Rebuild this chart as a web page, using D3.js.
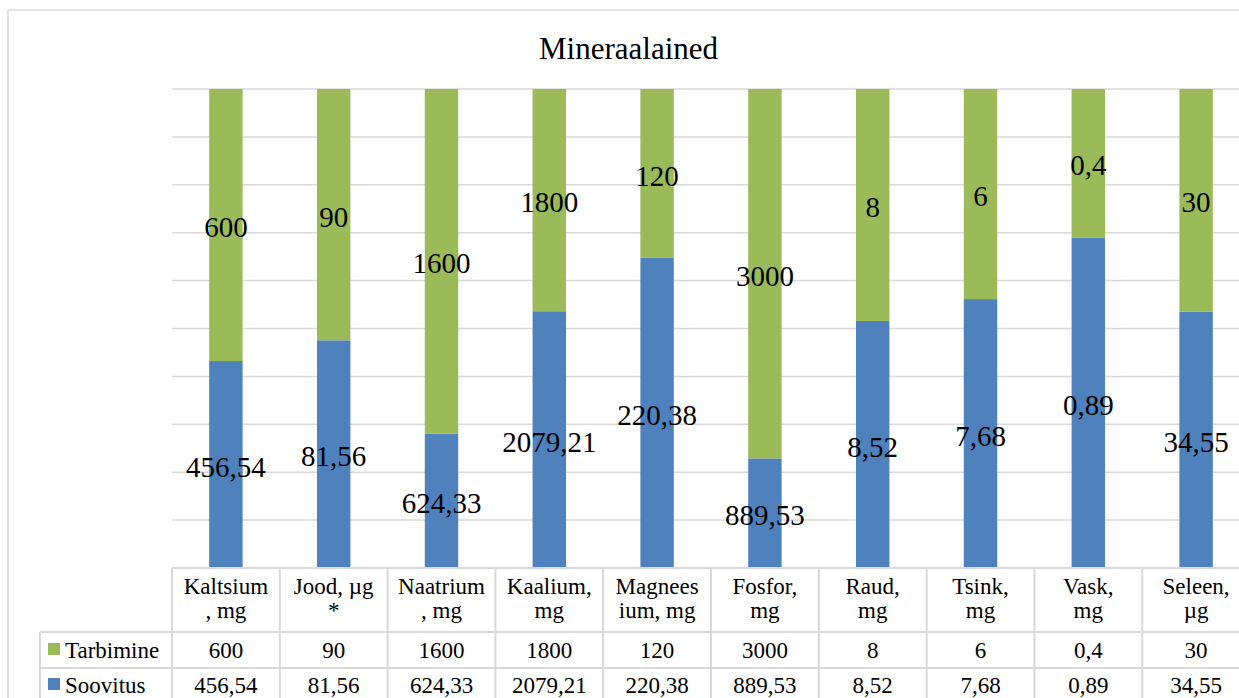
<!DOCTYPE html>
<html>
<head>
<meta charset="utf-8">
<script src="https://cdn.jsdelivr.net/npm/d3@7"></script>
<style>
  html, body { margin: 0; padding: 0; background: #fff; overflow: hidden; }
</style>
</head>
<body>
<svg id="chart" width="1239" height="698"></svg>
<script>
// Minerals: consumption vs recommendation (100% stacked columns + data table)
const categories = ["Kaltsium, mg", "Jood, µg *", "Naatrium, mg", "Kaalium, mg", "Magneesium, mg",
                    "Fosfor, mg", "Raud, mg", "Tsink, mg", "Vask, mg", "Seleen, µg"];
const headerLines = [["Kaltsium", ", mg"], ["Jood, µg", "*"], ["Naatrium", ", mg"], ["Kaalium,", "mg"],
                     ["Magnees", "ium, mg"], ["Fosfor,", "mg"], ["Raud,", "mg"], ["Tsink,", "mg"],
                     ["Vask,", "mg"], ["Seleen,", "µg"]];
const tarbimine = [600, 90, 1600, 1800, 120, 3000, 8, 6, 0.4, 30];
const soovitus = [456.54, 81.56, 624.33, 2079.21, 220.38, 889.53, 8.52, 7.68, 0.89, 34.55];
const seriesNames = ["Soovitus", "Tarbimine"];
const gridTicks = [0, 0.1, 0.2, 0.3, 0.4, 0.5, 0.6, 0.7, 0.8, 0.9, 1];

const colors = { Soovitus: "#4f81bd", Tarbimine: "#9bbb59" };
const gridColor = "#d9d9d9";

// pick the first installed serif face (measured against monospace fallback)
function pickFont(candidates) {
  const ctx = document.createElement("canvas").getContext("2d");
  const sample = "Mineraalained 0123456789 Wwm";
  ctx.font = "40px monospace";
  const mono = ctx.measureText(sample).width;
  for (const f of candidates) {
    ctx.font = `40px "${f}", monospace`;
    if (Math.abs(ctx.measureText(sample).width - mono) > 0.5) return `"${f}"`;
  }
  return "serif";
}
const fontFamily = pickFont(["Liberation Serif", "Tinos", "Times New Roman", "DejaVu Serif", "Noto Serif"]) + ", serif";

const svg = d3.select("#chart").attr("font-family", fontFamily);
const et = d3.formatLocale({ decimal: ",", thousands: " ", grouping: [3], currency: ["", " €"] });
const fmt = et.format("");

// layout
const plotLeft = 172, plotRight = 1250, plotTop = 89, plotBottom = 568;
const rowTarb = [632, 668], rowSoov = [668, 704];

// outer chart frame
svg.append("rect")
  .attr("x", 8).attr("y", 10).attr("width", 1241).attr("height", 720)
  .attr("fill", "#fff").attr("stroke", gridColor).attr("stroke-width", 1.5);

// title
svg.append("text")
  .attr("x", 628.5).attr("y", 59)
  .attr("text-anchor", "middle")
  .attr("font-size", 31).attr("fill", "#000")
  .text("Mineraalained");

const x = d3.scaleBand().domain(categories).range([plotLeft, plotRight])
  .paddingInner(0.69).paddingOuter(0.345);
const y = d3.scaleLinear().domain([0, 1]).range([plotBottom, plotTop]);

// gridlines
svg.append("g").selectAll("line").data(gridTicks).join("line")
  .attr("x1", plotLeft).attr("x2", plotRight)
  .attr("y1", d => y(d)).attr("y2", d => y(d))
  .attr("stroke", gridColor).attr("stroke-width", 1.5);

// stacked data
const rows = categories.map((c, i) => ({ cat: c, Soovitus: soovitus[i], Tarbimine: tarbimine[i] }));
const stacked = d3.stack().keys(seriesNames).offset(d3.stackOffsetExpand)(rows);

const layers = svg.append("g").selectAll("g").data(stacked).join("g")
  .attr("fill", d => colors[d.key]);

layers.selectAll("rect").data(d => d).join("rect")
  .attr("x", d => x(d.data.cat))
  .attr("width", x.bandwidth())
  .attr("y", d => y(d[1]))
  .attr("height", d => y(d[0]) - y(d[1]));

// data labels in the middle of each segment
const labels = svg.append("g").attr("font-size", 29).attr("fill", "#000").attr("text-anchor", "middle");
stacked.forEach(layer => {
  labels.selectAll(null).data(layer).join("text")
    .attr("x", d => x(d.data.cat) + x.bandwidth() / 2)
    .attr("y", d => (y(d[0]) + y(d[1])) / 2 + 2)
    .attr("dy", "0.35em")
    .text(d => fmt(d.data[layer.key]));
});

// data table
const table = svg.append("g");
const step = x.step();
const colEdges = d3.range(categories.length + 1).map(i => plotLeft + i * step);

// horizontal lines
table.append("line").attr("x1", plotLeft).attr("x2", plotRight).attr("y1", plotBottom).attr("y2", plotBottom)
  .attr("stroke", gridColor).attr("stroke-width", 2);
[rowTarb[0], rowSoov[0]].forEach(yy => {
  table.append("line").attr("x1", 40).attr("x2", plotRight).attr("y1", yy).attr("y2", yy)
    .attr("stroke", gridColor).attr("stroke-width", 2);
});
// vertical lines
colEdges.forEach(xx => {
  table.append("line").attr("x1", xx).attr("x2", xx).attr("y1", plotBottom).attr("y2", 698)
    .attr("stroke", gridColor).attr("stroke-width", 2);
});
table.append("line").attr("x1", 40).attr("x2", 40).attr("y1", rowTarb[0]).attr("y2", 698)
  .attr("stroke", gridColor).attr("stroke-width", 2);

// header cells
const hdr = table.append("g").attr("font-size", 23).attr("text-anchor", "middle").attr("fill", "#000");
categories.forEach((c, i) => {
  const cx = x(c) + x.bandwidth() / 2;
  headerLines[i].forEach((ln, j) => {
    hdr.append("text").attr("x", cx).attr("y", 594 + j * 24).text(ln);
  });
});

// value rows
const valueRows = [
  { name: "Tarbimine", values: tarbimine, yc: (rowTarb[0] + rowTarb[1]) / 2 },
  { name: "Soovitus", values: soovitus, yc: (rowSoov[0] + rowSoov[1]) / 2 - 1 }
];
valueRows.forEach(r => {
  const g = table.append("g").attr("font-size", 23).attr("fill", "#000");
  g.append("rect").attr("x", 48).attr("y", r.yc - 6 - 1).attr("width", 12).attr("height", 12)
    .attr("fill", colors[r.name]);
  g.append("text").attr("x", 65).attr("y", r.yc).attr("dy", "0.35em").text(r.name);
  g.selectAll(null).data(r.values).join("text")
    .attr("x", (d, i) => x(categories[i]) + x.bandwidth() / 2)
    .attr("y", r.yc).attr("dy", "0.35em")
    .attr("text-anchor", "middle")
    .text(d => fmt(d));
});
</script>
</body>
</html>
